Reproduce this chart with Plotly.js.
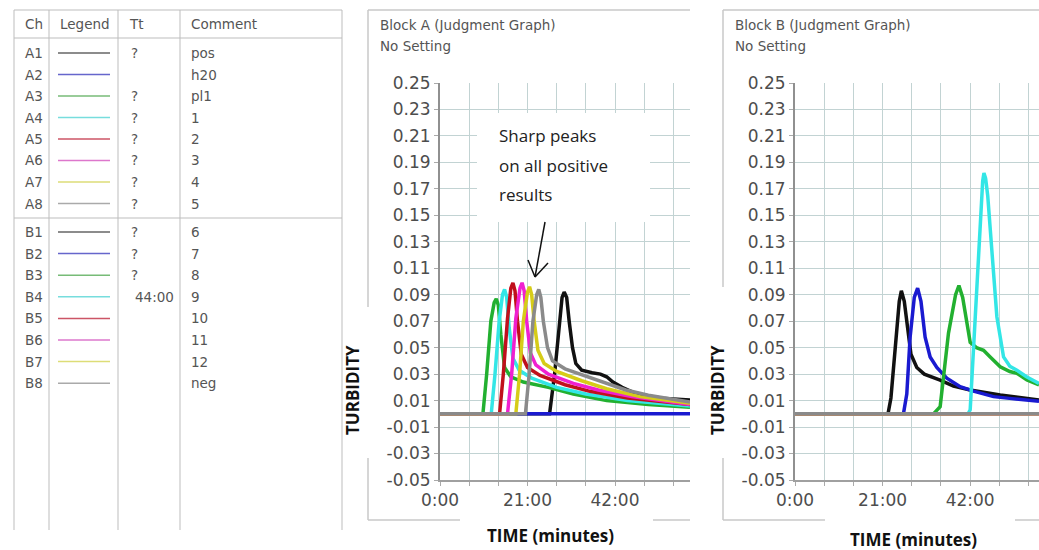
<!DOCTYPE html>
<html>
<head>
<meta charset="utf-8">
<script src="https://cdn.plot.ly/plotly-3.0.1.min.js"></script>
<style>html,body{margin:0;padding:0;background:#fff;}#chart{width:1039px;height:550px;}</style>
</head>
<body>
<div id="chart"></div>
<script>
// ---------- Table data ----------
const channels = ['A1','A2','A3','A4','A5','A6','A7','A8','B1','B2','B3','B4','B5','B6','B7','B8'];
const ttValues = ['?','','?','?','?','?','?','?','?','?','?','44:00','','','',''];
const comments = ['pos','h20','pl1','1','2','3','4','5','6','7','8','9','10','11','12','neg'];
const headers = ['Ch','Legend','Tt','Comment'];

// ---------- Axis ticks ----------
const xTickVals = [0,7,14,21,28,35,42,49,56];
const xTickText = ['0:00','','','21:00','','','42:00','',''];
const yTickVals = [-0.05,-0.03,-0.01,0.01,0.03,0.05,0.07,0.09,0.11,0.13,0.15,0.17,0.19,0.21,0.23,0.25];
const yTickText = ['-0.05','-0.03','-0.01','0.01','0.03','0.05','0.07','0.09','0.11','0.13','0.15','0.17','0.19','0.21','0.23','0.25'];

// ---------- Block A curves (time in minutes, turbidity) ----------
const tA1 = [0, 26.3, 27.5, 28.5, 29.3, 29.8, 30.4, 31.0, 31.8, 32.6, 34.0, 36.5, 38.5, 40.0, 41.5, 43.7, 46.5, 50.0, 54.0, 60.0];
const vA1 = [0, 0, 0.030, 0.065, 0.088, 0.092, 0.088, 0.070, 0.050, 0.038, 0.033, 0.031, 0.030, 0.028, 0.024, 0.020, 0.016, 0.0135, 0.0115, 0.0104];
const tA2 = [0, 20, 40, 60];
const vA2 = [0, 0, 0, 0];
const tA3 = [0, 10.3, 11.2, 12.2, 13.0, 13.5, 14.0, 14.6, 15.5, 17.0, 20.0, 26.0, 32.0, 40.0, 50.0, 60.0];
const vA3 = [0, 0, 0.030, 0.070, 0.084, 0.087, 0.082, 0.060, 0.035, 0.028, 0.024, 0.020, 0.015, 0.010, 0.007, 0.005];
const tA4 = [0, 12.3, 13.2, 14.2, 15.0, 15.5, 16.0, 16.6, 17.5, 19.0, 22.0, 28.0, 35.0, 45.0, 60.0];
const vA4 = [0, 0, 0.030, 0.070, 0.090, 0.094, 0.088, 0.065, 0.042, 0.033, 0.027, 0.020, 0.015, 0.010, 0.006];
const tA5 = [0, 14.3, 15.2, 16.2, 17.0, 17.5, 18.0, 18.6, 19.5, 21.0, 24.0, 30.0, 36.0, 45.0, 60.0];
const vA5 = [0, 0, 0.030, 0.072, 0.095, 0.099, 0.093, 0.070, 0.045, 0.035, 0.029, 0.022, 0.017, 0.012, 0.007];
const tA6 = [0, 16.2, 17.2, 18.2, 19.2, 19.7, 20.2, 20.8, 21.7, 23.0, 26.0, 32.0, 38.0, 46.0, 60.0];
const vA6 = [0, 0, 0.030, 0.072, 0.095, 0.099, 0.093, 0.070, 0.046, 0.037, 0.030, 0.023, 0.018, 0.013, 0.007];
const tA7 = [0, 18.2, 19.1, 20.0, 21.0, 21.5, 22.0, 22.6, 23.5, 25.0, 28.0, 34.0, 40.0, 48.0, 60.0];
const vA7 = [0, 0, 0.030, 0.070, 0.092, 0.096, 0.090, 0.070, 0.048, 0.038, 0.032, 0.025, 0.019, 0.013, 0.008];
const tA8 = [0, 20.5, 21.4, 22.3, 23.2, 23.7, 24.2, 24.8, 25.8, 27.0, 30.0, 36.5, 44.6, 50.0, 60.0];
const vA8 = [0, 0, 0.030, 0.070, 0.090, 0.094, 0.088, 0.070, 0.050, 0.040, 0.034, 0.027, 0.018, 0.014, 0.009];

// ---------- Block B curves ----------
const tB1 = [0, 22.3, 23.0, 24.0, 25.0, 25.5, 26.2, 27.0, 27.8, 29.2, 31.0, 34.8, 38.0, 42.0, 49.2, 58.5];
const vB1 = [0, 0, 0.012, 0.048, 0.085, 0.093, 0.085, 0.065, 0.045, 0.035, 0.030, 0.0255, 0.021, 0.018, 0.0142, 0.0104];
const tB2 = [0, 26.0, 26.8, 27.6, 28.6, 29.4, 30.2, 31.2, 32.4, 34.0, 36.4, 39.6, 43.0, 47.6, 52.0, 58.5];
const vB2 = [0, 0, 0.015, 0.058, 0.088, 0.095, 0.085, 0.058, 0.043, 0.035, 0.027, 0.0205, 0.017, 0.013, 0.0115, 0.0095];
const tB3 = [0, 33.2, 34.8, 36.8, 38.5, 39.3, 40.2, 41.2, 42.0, 43.5, 45.2, 46.8, 49.2, 51.5, 53.2, 55.6, 58.5];
const vB3 = [0, 0, 0.0054, 0.061, 0.090, 0.097, 0.088, 0.068, 0.054, 0.050, 0.048, 0.043, 0.0356, 0.032, 0.0306, 0.0256, 0.0218];
const tB4 = [0, 41.5, 42.0, 43.2, 44.4, 45.0, 45.3, 45.7, 46.2, 47.2, 48.4, 50.0, 51.5, 53.2, 55.5, 58.5];
const vB4 = [0, 0, 0.003, 0.073, 0.149, 0.176, 0.182, 0.178, 0.165, 0.124, 0.0734, 0.043, 0.036, 0.033, 0.028, 0.023];
const tB5 = [0, 58.5]; const vB5 = [0, 0];
const tB6 = [0, 58.5]; const vB6 = [0, 0];
const tB7 = [0, 58.5]; const vB7 = [0, 0];
const tB8 = [0, 20, 40, 58.5]; const vB8 = [0, 0, 0, 0];

// ---------- Styling ----------
const curveColors = ['#111111','#1a1ad0','#22b030','#33e6e6','#c0101c','#f020d0','#d6cc18','#8a8a8a'];
const legendColors = ['#666666','#6666cc','#77bb77','#77dddd','#cc5566','#dd77cc','#dddd77','#aaaaaa'];

const W = 1039, H = 550;
const PX = v => v / W;
const PY = v => 1 - v / H;

const seriesA = [[tA1,vA1],[tA2,vA2],[tA3,vA3],[tA4,vA4],[tA5,vA5],[tA6,vA6],[tA7,vA7],[tA8,vA8]];
const seriesB = [[tB1,vB1],[tB2,vB2],[tB3,vB3],[tB4,vB4],[tB5,vB5],[tB6,vB6],[tB7,vB7],[tB8,vB8]];

const traces = [];
seriesA.forEach((s, i) => traces.push({
  x: s[0], y: s[1], xaxis: 'x', yaxis: 'y', type: 'scatter', mode: 'lines',
  line: {color: curveColors[i], width: 3.5, shape: 'linear'},
  name: channels[i], hoverinfo: 'skip'
}));
seriesB.forEach((s, i) => traces.push({
  x: s[0], y: s[1], xaxis: 'x2', yaxis: 'y2', type: 'scatter', mode: 'lines',
  line: {color: curveColors[i], width: 3.5, shape: 'linear'},
  name: channels[8 + i], hoverinfo: 'skip'
}));

const gridColor = '#c2d3d3';
const tickFont = {family: 'DejaVu Sans, sans-serif', size: 17, color: '#4d4d4d'};
function xAxis(domain, range) {
  return {domain: domain, range: range, tickmode: 'array', tickvals: xTickVals, ticktext: xTickText,
    ticks: 'outside', ticklen: 4, tickcolor: '#aaa', showgrid: true, gridcolor: gridColor, gridwidth: 1,
    showline: true, linecolor: '#a0a0a0', linewidth: 1.5, zeroline: false, tickfont: tickFont, fixedrange: true};
}
function yAxis(domain, anchor) {
  return {domain: domain, range: [-0.05, 0.25], anchor: anchor, tickmode: 'array', tickvals: yTickVals, ticktext: yTickText,
    ticks: 'outside', ticklen: 4, tickcolor: '#aaa', showgrid: true, gridcolor: gridColor, gridwidth: 1,
    showline: true, linecolor: '#909090', linewidth: 2, zeroline: false, tickfont: tickFont, fixedrange: true};
}

const shapes = [];
const annotations = [];
const lineShape = (x0, y0, x1, y1, color, width) => shapes.push({type: 'line', xref: 'paper', yref: 'paper',
  x0: PX(x0), y0: PY(y0), x1: PX(x1), y1: PY(y1), line: {color: color, width: width}, layer: 'above'});
const rectShape = (x0, y0, x1, y1, fill) => shapes.push({type: 'rect', xref: 'paper', yref: 'paper',
  x0: PX(x0), y0: PY(y0), x1: PX(x1), y1: PY(y1), fillcolor: fill, line: {width: 0}, layer: 'above'});
const text = (x, y, t, opts) => annotations.push(Object.assign({xref: 'paper', yref: 'paper', x: PX(x), y: PY(y),
  text: t, showarrow: false, xanchor: 'left', yanchor: 'middle',
  font: {family: 'DejaVu Sans, sans-serif', size: 13.5, color: '#555'}}, opts || {}));

// ---------- Table ----------
const tblColor = '#bdbdbd';
lineShape(14, 10, 342, 10, tblColor, 1);
lineShape(14, 38, 342, 38, tblColor, 1);
lineShape(14, 218, 342, 218, tblColor, 1);
[14, 49, 118, 180, 342].forEach(x => lineShape(x, 10, x, 530, tblColor, 1));
const headerX = [23, 58, 127, 189];
headers.forEach((h, i) => text(headerX[i], 24, h));
channels.forEach((ch, i) => {
  const y = i < 8 ? 53 + i * 21.5 : 232 + (i - 8) * 21.6;
  text(23, y, ch);
  lineShape(58, y, 110, y, legendColors[i % 8], 1.5);
  if (ttValues[i] === '?') text(129, y, ttValues[i]);
  else if (ttValues[i]) text(176, y, ttValues[i], {xanchor: 'right'});
  text(189, y, comments[i]);
});

// ---------- Block frames ----------
const frameColor = '#c8c8c8';
lineShape(368, 10, 690, 10, frameColor, 1.5);
lineShape(368, 10, 368, 307, frameColor, 1.5);
lineShape(368, 458, 368, 520, frameColor, 1.5);
lineShape(368, 520, 460, 520, frameColor, 1.5);
lineShape(653, 520, 690, 520, frameColor, 1.5);
lineShape(723, 10, 1039, 10, frameColor, 1.5);
lineShape(723, 10, 723, 287, frameColor, 1.5);
lineShape(723, 458, 723, 520, frameColor, 1.5);
lineShape(723, 520, 825, 520, frameColor, 1.5);
lineShape(1015, 520, 1039, 520, frameColor, 1.5);

text(378, 25, 'Block A (Judgment Graph)');
text(378, 46, 'No Setting');
text(733, 25, 'Block B (Judgment Graph)');
text(733, 46, 'No Setting');

const boldFont = {family: 'Open Sans, sans-serif', size: 17, color: '#111'};
text(352, 390, '<b>TURBIDITY</b>', {xanchor: 'center', textangle: -90, font: boldFont});
text(717, 390, '<b>TURBIDITY</b>', {xanchor: 'center', textangle: -90, font: boldFont});
text(550, 535, '<b>TIME (minutes)</b>', {xanchor: 'center', font: boldFont});
text(913, 539, '<b>TIME (minutes)</b>', {xanchor: 'center', font: boldFont});

// Callout box
rectShape(477, 113, 650, 222, '#ffffff');
const calloutFont = {family: 'Open Sans, sans-serif', size: 17, color: '#222'};
text(497, 135, 'Sharp peaks', {font: calloutFont});
text(497, 165, 'on all positive', {font: calloutFont});
text(497, 195, 'results', {font: calloutFont});
lineShape(545, 222, 535, 277, '#111', 1.5);
lineShape(528, 260, 535, 277, '#111', 1.5);
lineShape(548, 263, 535, 277, '#111', 1.5);

const layout = {
  width: W, height: H, margin: {l: 0, r: 0, t: 0, b: 0},
  paper_bgcolor: '#ffffff', plot_bgcolor: '#ffffff', showlegend: false,
  xaxis: Object.assign(xAxis([PX(440), PX(690)], [0, 60]), {anchor: 'y'}),
  yaxis: yAxis([PY(480), PY(83)], 'x'),
  xaxis2: Object.assign(xAxis([PX(795), 1], [0, 58.5]), {anchor: 'y2'}),
  yaxis2: yAxis([PY(480), PY(83)], 'x2'),
  shapes: shapes, annotations: annotations
};

Plotly.newPlot('chart', traces, layout, {staticPlot: true, displayModeBar: false});
</script>
</body>
</html>
